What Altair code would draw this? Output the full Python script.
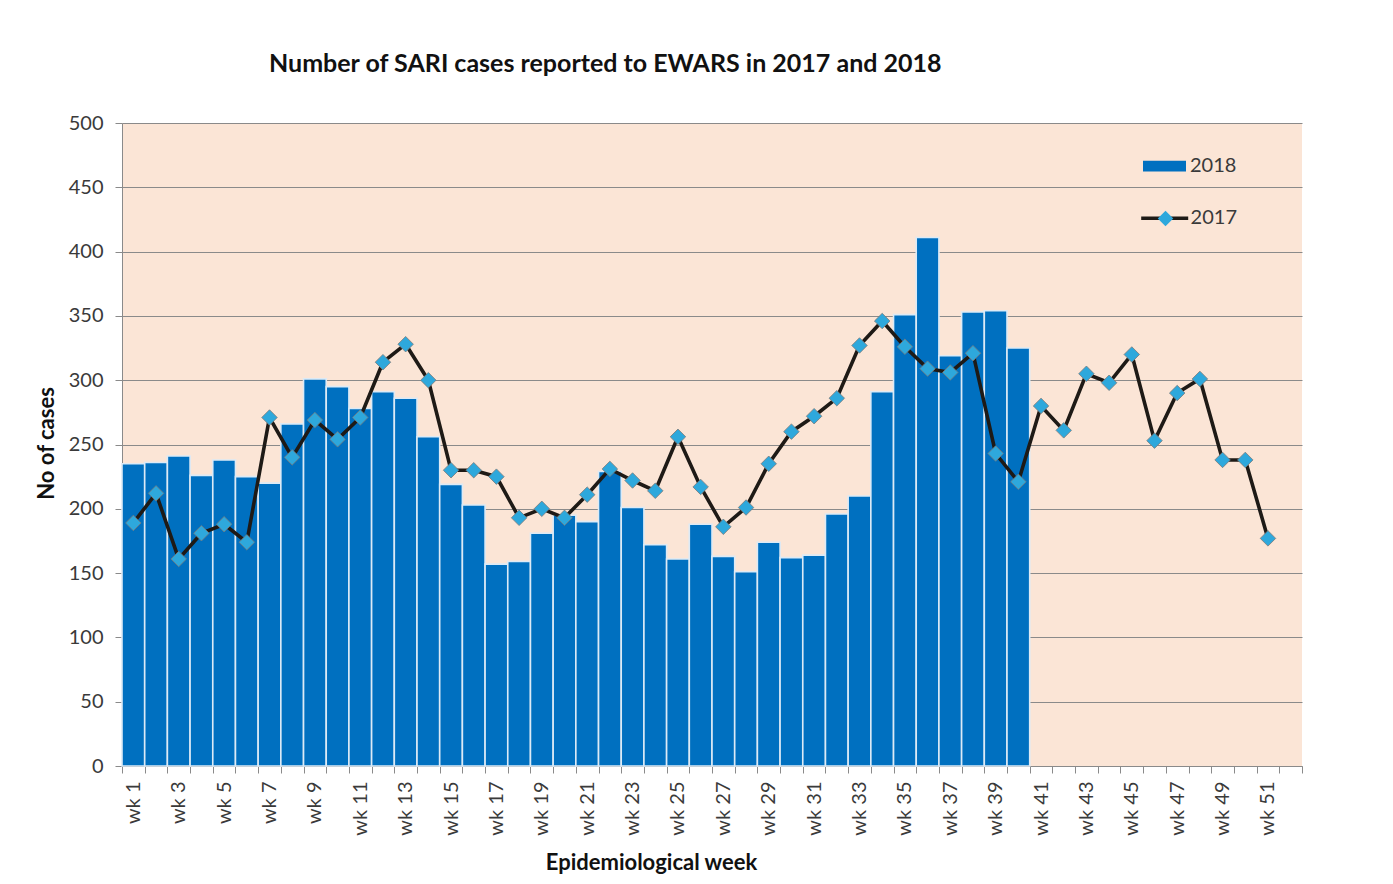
import altair as alt
import pandas as pd

weeks = [f"wk {i}" for i in range(1, 53)]

cases_2018 = [235, 236, 241, 226, 238, 225, 220, 266, 301, 295,
              278, 291, 286, 256, 219, 203, 157, 159, 181, 195,
              190, 229, 201, 172, 161, 188, 163, 151, 174, 162,
              164, 196, 210, 291, 351, 411, 319, 353, 354, 325]

cases_2017 = [189, 212, 161, 181, 188, 174, 271, 240, 269, 254,
              271, 314, 328, 300, 230, 230, 225, 193, 200, 193,
              211, 231, 222, 214, 256, 217, 186, 201, 235, 260,
              272, 286, 327, 346, 326, 309, 306, 321, 243, 221,
              280, 261, 305, 298, 320, 253, 290, 301, 238, 238, 177]

y_ticks = [0, 50, 100, 150, 200, 250, 300, 350, 400, 450, 500]

df18 = pd.DataFrame({"week": weeks[:len(cases_2018)], "cases": cases_2018,
                     "s_bar": "2018"})
df17 = pd.DataFrame({"week": weeks[:len(cases_2017)], "cases": cases_2017,
                     "s_line": "2017", "s_pt": "2017 marker"})

FONT = "Lato"
TXT = "#3a3a3a"
GRID = "#8a8a8a"
DIAMOND = "#2EA8DC"

x_enc = alt.X(
    "week:N",
    sort=weeks,
    scale=alt.Scale(domain=weeks, paddingInner=0, paddingOuter=0),
    axis=alt.Axis(
        title="Epidemiological week",
        labelAngle=270,
        labelExpr="(indexof(['1','3','5','7','9'], slice(datum.label, -1)) >= 0) ? datum.label : ''",
        tickBand="extent",
        tickSize=7,
        tickColor=GRID,
        domainColor=GRID,
        labelPadding=8,
        titleX=529,
        titleY=86,
        titleBaseline="top",
        titleAlign="center",
        titleAnchor="start",
    ),
)

y_enc = alt.Y(
    "cases:Q",
    scale=alt.Scale(domain=[0, 500], nice=False),
    axis=alt.Axis(
        title="No of cases",
        values=y_ticks,
        grid=True,
        gridColor=GRID,
        gridWidth=1,
        tickSize=7,
        tickColor=GRID,
        domainColor=GRID,
        labelPadding=12,
        titleX=-76,
        titleY=320,
        titleAngle=270,
        titleBaseline="middle",
        titleAlign="center",
        titleAnchor="start",
    ),
)

bars = alt.Chart(df18).mark_bar(stroke="#DCEAF6", strokeWidth=1.6).encode(
    x=x_enc,
    y=y_enc,
    fill=alt.Fill(
        "s_bar:N",
        scale=alt.Scale(domain=["2018"], range=["#0070C0"]),
        legend=alt.Legend(
            title=None, orient="none", legendX=1021, legendY=21.5,
            symbolType="M-1,-0.25H1V0.25H-1Z", symbolSize=1849,
            symbolStrokeWidth=0, symbolOpacity=1, labelOffset=4, padding=0,
        ),
    ),
)

line = alt.Chart(df17).mark_line(strokeWidth=3.6).encode(
    x=alt.X("week:N", sort=weeks),
    y=alt.Y("cases:Q"),
    stroke=alt.Stroke(
        "s_line:N",
        scale=alt.Scale(domain=["2017"], range=["#1E1A16"]),
        legend=alt.Legend(
            title=None, orient="none", legendX=1017.2, legendY=69.8,
            symbolType="M-1,0H1", symbolSize=2209, symbolStrokeWidth=3.6,
            labelOffset=0.4, padding=0,
        ),
    ),
)

points = alt.Chart(df17).mark_point(
    filled=True, size=240, fill=DIAMOND, stroke="#7a7a7a", strokeWidth=0.8, opacity=1
).encode(
    x=alt.X("week:N", sort=weeks),
    y=alt.Y("cases:Q"),
    shape=alt.Shape(
        "s_pt:N",
        scale=alt.Scale(domain=["2017 marker"], range=["diamond"]),
        legend=alt.Legend(
            title=None, orient="none", legendX=1033.5, legendY=85.5,
            symbolSize=240, symbolFillColor=DIAMOND, symbolStrokeColor="#7a7a7a",
            symbolStrokeWidth=0.8, symbolOpacity=1, labelExpr="''", padding=0,
        ),
    ),
)

chart = (
    alt.layer(bars, line, points)
    .properties(
        width=1180,
        height=643,
        autosize=alt.AutoSizeParams(type="none"),
        padding={"left": 114, "top": 115, "right": 80, "bottom": 110},
        title=alt.TitleParams(
            "Number of SARI cases reported to EWARS in 2017 and 2018",
            font=FONT, fontSize=25, fontWeight="bold", color="#111111",
            anchor="start", dx=234, offset=36,
        ),
    )
    .configure(background="white")
    .configure_view(fill="#FBE5D6", strokeWidth=0)
    .configure_axis(
        labelFont=FONT, labelFontSize=20, labelColor=TXT,
        titleFont=FONT, titleFontSize=22, titleFontWeight="bold", titleColor="#111111",
    )
    .configure_legend(labelFont=FONT, labelFontSize=20, labelColor=TXT)
)

chart.save("out.html", embed_options={"renderer": "svg", "actions": False})
